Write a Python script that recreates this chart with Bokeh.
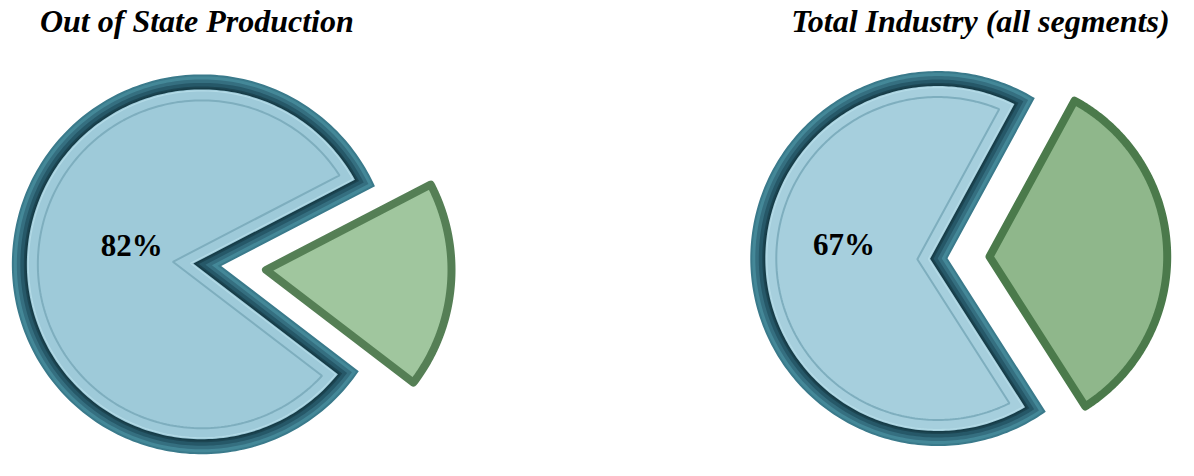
import numpy as np
from bokeh.plotting import figure
from bokeh.models import Range1d
from bokeh.core.properties import value
from bokeh.embed import file_html
from bokeh.resources import INLINE

# ---- data ----
titles = ["Out of State Production", "Total Industry (all segments)"]
main_share = [82, 67]          # blue slice, percent
other_share = [18, 33]         # green (exploded) slice, percent
labels = ["82%", "67%"]

# ---- layout (not data) ----
W, H = 1178, 460
KX, KY = W / 1194, H / 476
K = (KX + KY) / 2


def sx(v):
    return v * KX


def sy(v):
    return (476 - v) * KY


centers = [(sx(204), sy(273)), (sx(950), sy(267))]
radius = [194.5 * K, 192 * K]
apex_shift = [20 * K, 10 * K]  # notch apex offset toward the gap
green_radius = [190 * K, 182 * K]
green_mid = [-5.0, 2.0]        # direction of exploded slice, degrees
explode = [66 * K, 53 * K]
blue_fill = ["#9ECAD9", "#A6CFDD"]
green_fill = ["#A0C69E", "#8FB78B"]
green_line = ["#557F55", "#4B7A4B"]
title_pos = [(sx(199), sy(21), "center"), (sx(1185), sy(21), "right")]
label_pos = [(sx(133), sy(254)), (sx(855), sy(252))]

p = figure(width=W, height=H, x_range=Range1d(0, W), y_range=Range1d(0, H),
           output_backend="svg", toolbar_location=None, min_border=0)
p.axis.visible = False
p.grid.visible = False
p.outline_line_color = None
p.background_fill_color = "white"
p.border_fill_color = "white"


def ray_circle(ax, ay, th, cx, cy, r):
    ux, uy = np.cos(th), np.sin(th)
    dx, dy = ax - cx, ay - cy
    b = dx * ux + dy * uy
    c = dx * dx + dy * dy - r * r
    t = -b + np.sqrt(max(b * b - c, 0.0))
    return ax + t * ux, ay + t * uy


def slice_poly(cx, cy, R, apx, apy, a0, a1, d, n=240):
    """Slice from apex (apx, apy) with edges at angles a0..a1 (deg, ccw),
    closed by an arc of the circle (cx, cy, R); inset by distance d."""
    a0r, a1r = np.radians(a0), np.radians(a1)
    span = a1r - a0r
    bis = (a0r + a1r) / 2
    m = d / np.sin(span / 2) if d > 0 else 0.0
    ax, ay = apx + m * np.cos(bis), apy + m * np.sin(bis)
    r = R - d
    p0 = ray_circle(ax, ay, a0r, cx, cy, r)
    p1 = ray_circle(ax, ay, a1r, cx, cy, r)
    t0 = np.arctan2(p0[1] - cy, p0[0] - cx)
    t1 = np.arctan2(p1[1] - cy, p1[0] - cx)
    while t1 <= t0:
        t1 += 2 * np.pi
    t = np.linspace(t0, t1, n)
    xs = [ax] + list(cx + r * np.cos(t)) + [ax]
    ys = [ay] + list(cy + r * np.sin(t)) + [ay]
    return xs, ys


bevel_layers = [(0, "#3A7A8B"), (2, "#448898"), (5, "#356F80"),
                (8.5, "#265868"), (12, "#1C4552"), (13.5, "#163C47")]

for i in range(2):
    cx, cy = centers[i]
    R = radius[i]
    gspan = other_share[i] / 100 * 360
    g0 = green_mid[i] - gspan / 2
    g1 = green_mid[i] + gspan / 2
    b0, b1 = g1, g1 + main_share[i] / 100 * 360   # blue slice spans the rest
    mr = np.radians(green_mid[i])
    apx = cx + apex_shift[i] * np.cos(mr)
    apy = cy + apex_shift[i] * np.sin(mr)

    # blue slice with bevel
    for d, col in bevel_layers:
        xs, ys = slice_poly(cx, cy, R, apx, apy, b0, b1, d)
        p.patch(xs, ys, fill_color=col, line_color=None)
    xs, ys = slice_poly(cx, cy, R, apx, apy, b0, b1, 15)
    p.patch(xs, ys, fill_color=blue_fill[i], line_color=None)
    xs, ys = slice_poly(cx, cy, R, apx, apy, b0, b1, 16.5)
    p.patch(xs, ys, fill_color=None, line_color="#B9DFEA", line_width=1.2, line_alpha=0.8)
    xs, ys = slice_poly(cx, cy, R, apx, apy, b0, b1, 26)
    p.patch(xs, ys, fill_color=None, line_color="#7EAEBE", line_width=2)

    # green exploded slice
    gx = cx + explode[i] * np.cos(mr)
    gy = cy + explode[i] * np.sin(mr)
    xs, ys = slice_poly(gx, gy, green_radius[i], gx, gy, g0, g1, 0)
    p.patch(xs, ys, fill_color=green_fill[i], line_color=green_line[i],
            line_width=8, line_join="round")

    # percent label
    lx, ly = label_pos[i]
    p.text(x=[lx], y=[ly], text=[labels[i]], text_font=value("Liberation Serif"),
           text_font_style="bold", text_font_size="31px", text_color="#000000",
           text_align="center", text_baseline="middle")

    # title
    tx, ty, al = title_pos[i]
    p.text(x=[tx], y=[ty], text=[titles[i]], text_font=value("Liberation Serif"),
           text_font_style="bold italic", text_font_size="32px", text_color="#000000",
           text_align=al, text_baseline="middle")

open("out.html", "w").write(file_html(p, INLINE))
